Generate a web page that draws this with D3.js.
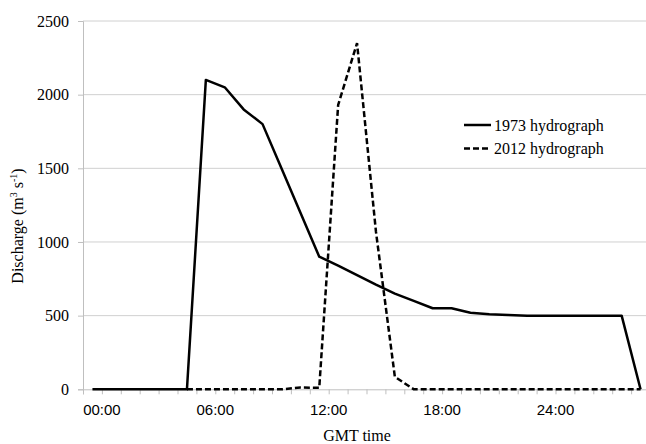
<!DOCTYPE html>
<html>
<head>
<meta charset="utf-8">
<script src="https://cdn.jsdelivr.net/npm/d3@7"></script>
<style>
  body { margin: 0; background: #fff; }
  svg { display: block; }
</style>
</head>
<body>
<svg id="chart" width="646" height="444"></svg>
<script>
// hourly samples, half past each hour (hours from 00:00)
const hours = [-0.5, 0.5, 1.5, 2.5, 3.5, 4.5, 5.5, 6.5, 7.5, 8.5,
               9.5, 10.5, 11.5, 12.5, 13.5, 14.5, 15.5, 16.5, 17.5, 18.5,
               19.5, 20.5, 21.5, 22.5, 23.5, 24.5, 25.5, 26.5, 27.5, 28.5];

const flow1973 = [0, 0, 0, 0, 0, 0, 2100, 2050, 1900, 1800,
                  1500, 1200, 900, 840, 775, 710, 650, 600, 550, 550,
                  520, 510, 505, 500, 500, 500, 500, 500, 500, 0];

const flow2012 = [null, null, null, null, null, 0, 0, 0, 0, 0,
                  0, 12, 10, 1930, 2350, 1070, 85, 0, 0, 0,
                  0, 0, 0, 0, 0, 0, 0, 0, 0, 0];

const tickHours = [0, 6, 12, 18, 24];
const tickLabels = ["00:00", "06:00", "12:00", "18:00", "24:00"];
const yTicks = [0, 500, 1000, 1500, 2000, 2500];

const seriesNames = ["1973 hydrograph", "2012 hydrograph"];

const svg = d3.select("#chart");
const plotLeft = 83, plotRight = 650, plotTop = 21, plotBottom = 389.3;

const x = d3.scaleLinear().domain([-1, 29]).range([plotLeft, plotRight]);
const y = d3.scaleLinear().domain([0, 2500]).range([plotBottom, plotTop]);

const serif = "'Liberation Serif', 'Times New Roman', serif";
const sans = "'Liberation Sans', Arial, sans-serif";

// gridlines
svg.append("g")
  .selectAll("line")
  .data(yTicks.filter(d => d > 0))
  .enter().append("line")
    .attr("x1", plotLeft).attr("x2", plotRight)
    .attr("y1", d => y(d)).attr("y2", d => y(d))
    .attr("stroke", "#d0d0d0")
    .attr("stroke-width", 1);

// y axis
const yAxis = svg.append("g")
  .attr("transform", "translate(" + plotLeft + ",0)")
  .call(d3.axisLeft(y).tickValues(yTicks).tickSize(5).tickPadding(9).tickFormat(d3.format("d")));
yAxis.select(".domain").attr("stroke", "#bfbfbf");
yAxis.selectAll(".tick line").attr("stroke", "#bfbfbf");
yAxis.selectAll("text")
  .attr("font-family", serif)
  .attr("font-size", 16)
  .attr("fill", "#000");

// x axis: small ticks between hours, labels every six hours
const xAxis = svg.append("g")
  .attr("transform", "translate(0," + plotBottom + ")")
  .call(d3.axisBottom(x).tickValues(d3.range(-1, 30)).tickSize(5).tickFormat(""));
xAxis.select(".domain").attr("stroke", "#bfbfbf");
xAxis.selectAll(".tick line").attr("stroke", "#bfbfbf");

svg.append("g")
  .selectAll("text")
  .data(tickHours)
  .enter().append("text")
    .attr("x", d => x(d))
    .attr("y", plotBottom + 26)
    .attr("text-anchor", "middle")
    .attr("font-family", sans)
    .attr("font-size", 15)
    .attr("fill", "#000")
    .text((d, i) => tickLabels[i]);

// axis titles
svg.append("text")
  .attr("x", 357)
  .attr("y", 441)
  .attr("text-anchor", "middle")
  .attr("font-family", serif)
  .attr("font-size", 16)
  .text("GMT time");

const yTitle = svg.append("text")
  .attr("transform", "translate(23,226) rotate(-90)")
  .attr("text-anchor", "middle")
  .attr("font-family", serif)
  .attr("font-size", 16);
yTitle.append("tspan").text("Discharge (m");
yTitle.append("tspan").attr("font-size", 10).attr("dy", -6).text("3");
yTitle.append("tspan").attr("dy", 6).text(" s");
yTitle.append("tspan").attr("font-size", 10).attr("dy", -6).text("-1");
yTitle.append("tspan").attr("dy", 6).text(")");

// lines
const line = d3.line()
  .defined(d => d[1] !== null)
  .x(d => x(d[0]))
  .y(d => y(d[1]));

svg.append("path")
  .datum(hours.map((h, i) => [h, flow1973[i]]))
  .attr("d", line)
  .attr("fill", "none")
  .attr("stroke", "#000")
  .attr("stroke-width", 2.5)
  .attr("stroke-linejoin", "round");

svg.append("path")
  .datum(hours.map((h, i) => [h, flow2012[i]]))
  .attr("d", line)
  .attr("fill", "none")
  .attr("stroke", "#000")
  .attr("stroke-width", 2.5)
  .attr("stroke-dasharray", "6,3");

// legend
const legend = svg.append("g").attr("transform", "translate(464,125)");
seriesNames.forEach((name, i) => {
  const g = legend.append("g").attr("transform", "translate(0," + (i * 23.5) + ")");
  g.append("line")
    .attr("x1", 0).attr("x2", 27)
    .attr("stroke", "#000")
    .attr("stroke-width", 2.5)
    .attr("stroke-dasharray", i === 1 ? "6,3" : null);
  g.append("text")
    .attr("x", 30)
    .attr("y", 5.5)
    .attr("font-family", serif)
    .attr("font-size", 16)
    .text(name);
});
</script>
</body>
</html>
